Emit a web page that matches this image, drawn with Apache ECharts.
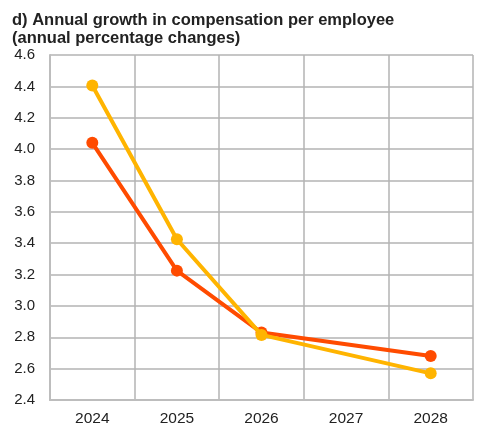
<!DOCTYPE html>
<html><head><meta charset="utf-8">
<script src="https://cdn.jsdelivr.net/npm/echarts@6/dist/echarts.min.js"></script>
<style>html,body{margin:0;padding:0;background:#fff}#c{width:477px;height:430px}</style>
</head><body><div id="c"></div>
<script>
const categories = ['2024','2025','2026','2027','2028'];
const seriesRed = [4.04, 3.225, 2.83, null, 2.68];
const seriesYellow = [4.405, 3.425, 2.815, null, 2.57];
const titleLines = ['d) Annual growth in compensation per employee','(annual percentage changes)'];

const chart = echarts.init(document.getElementById('c'), null, {renderer:'canvas'});
chart.setOption({
  animation:false,
  title:{text:titleLines.join('\n'),left:7,top:7,
    textStyle:{fontFamily:'Liberation Sans, Arial',fontSize:16.5,fontWeight:'bold',color:'#222',lineHeight:17.5}},
  grid:{left:50,right:4,top:55,bottom:30},
  xAxis:{type:'category',data:categories,boundaryGap:true,
    axisLine:{show:true,lineStyle:{color:'#bdbdbd',width:2}},
    axisTick:{show:false},
    splitLine:{show:true,lineStyle:{color:'#b3b3b3',width:1.5}},
    axisLabel:{fontFamily:'Liberation Sans, Arial',fontSize:15.5,color:'#222',margin:11}},
  yAxis:{type:'value',min:2.4,max:4.6,interval:0.2,
    axisLine:{show:true,lineStyle:{color:'#bdbdbd',width:2}},
    axisTick:{show:false},
    splitLine:{show:true,lineStyle:{color:'#b3b3b3',width:1.5}},
    axisLabel:{fontFamily:'Liberation Sans, Arial',fontSize:15,color:'#222',margin:15,
      formatter:v=>v.toFixed(1)}},
  series:[
    {type:'line',data:seriesRed,connectNulls:true,symbol:'circle',symbolSize:12,
      lineStyle:{color:'#FF4B00',width:4},itemStyle:{color:'#FF4B00'},z:2},
    {type:'line',data:seriesYellow,connectNulls:true,symbol:'circle',symbolSize:12,
      lineStyle:{color:'#FFB400',width:4},itemStyle:{color:'#FFB400'},z:3}
  ]
});
</script></body></html>
